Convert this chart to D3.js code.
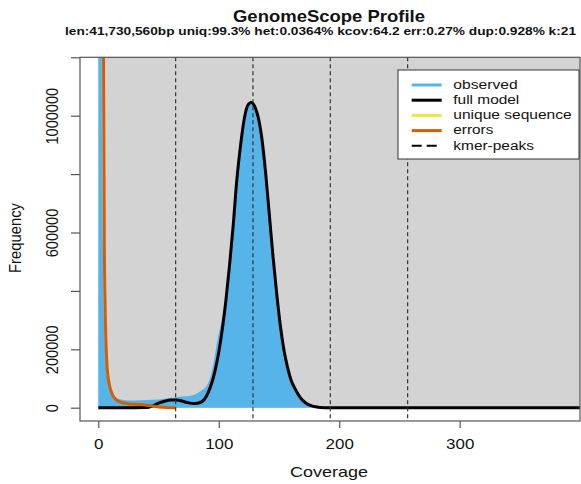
<!DOCTYPE html>
<html>
<head>
<meta charset="utf-8">
<script src="https://cdn.jsdelivr.net/npm/d3@7"></script>
<style>
  body { margin: 0; background: #fff; }
  svg { display: block; font-family: "Liberation Sans", Arial, sans-serif; }
</style>
</head>
<body>
<div id="chart"></div>
<script>
// values
var obsX = [1, 2, 3, 4, 5, 6, 7, 8, 10, 12, 15, 20, 25, 30, 40, 50, 60, 65, 70, 75, 80, 85, 90, 93, 96, 99, 102, 105, 108, 111, 114, 117, 120, 123, 126, 129, 132, 135, 138, 141, 144, 147, 150, 153, 156, 159, 162, 166, 170, 175, 180, 190, 200, 250, 400];
var obsY = [9000000, 3200000, 1000000, 480000, 270000, 175000, 125000, 95000, 68000, 48000, 33000, 27000, 25000, 25000, 26000, 28000, 33000, 36000, 38000, 40000, 45000, 57000, 75000, 105000, 160000, 235000, 290000, 355000, 450000, 580000, 730000, 860000, 960000, 1025000, 1050000, 1045000, 1005000, 935000, 835000, 705000, 565000, 430000, 315000, 220000, 155000, 105000, 72000, 42000, 23000, 10000, 4000, 1000, 500, 100, 0];

var modelX = [0, 30, 40, 45, 50, 55, 60, 65, 70, 75, 80, 84, 88, 91, 94, 97, 100, 103, 106, 109, 112, 115, 118, 121, 124, 127, 130, 133, 136, 139, 142, 145, 148, 151, 154, 157, 160, 164, 168, 172, 176, 180, 185, 190, 400];
var modelY = [0, 0, 500, 6000, 16000, 22000, 26000, 26500, 22000, 16500, 14500, 17000, 28000, 50000, 82000, 128000, 190000, 270000, 370000, 490000, 625000, 780000, 895000, 985000, 1035000, 1045000, 1030000, 990000, 915000, 800000, 660000, 520000, 395000, 285000, 200000, 140000, 95000, 60000, 33000, 17000, 8000, 3000, 800, 0, 0];

var errX = [2, 3, 4, 5, 6, 7, 8, 9, 10, 12, 15, 20, 25, 30, 40, 50, 57, 64];
var errY = [8000000, 3500000, 1500000, 560000, 280000, 160000, 110000, 82000, 65000, 42000, 27000, 17000, 13000, 11500, 8500, 2500, 700, 0];

var peaks = [64.2, 128.4, 192.6, 256.8];
var xTicks = [0, 100, 200, 300];
var yTicks = [0, 200000, 400000, 600000, 800000, 1000000, 1200000];
var yTickLabels = ["0", "200000", "", "600000", "", "1000000", ""];

var legendNames = ["observed", "full model", "unique sequence", "errors", "kmer-peaks"];
var legendColors = ["#56B4E9", "#000000", "#F0E442", "#D55E00", "#000000"];

var title = "GenomeScope Profile";
var subtitle = "len:41,730,560bp uniq:99.3%  het:0.0364% kcov:64.2 err:0.27%  dup:0.928%  k:21";

var svgWidth = 581, svgHeight = 484;
var box = {left: 80, right: 580, top: 57.3, bottom: 421};

var svg = d3.select("#chart").append("svg")
  .attr("width", svgWidth)
  .attr("height", svgHeight);

var xScale = d3.scaleLinear().domain([-15.2, 399.9]).range([box.left, box.right]);
var yScale = d3.scaleLinear().domain([0, 1200000]).range([407.7, box.top]);

svg.append("clipPath").attr("id", "clip")
  .append("rect")
  .attr("x", box.left).attr("y", box.top)
  .attr("width", box.right - box.left).attr("height", box.bottom - box.top);

var plot = svg.append("g").attr("clip-path", "url(#clip)");

// grey background from coverage 0 / frequency 0 up
plot.append("rect")
  .attr("x", xScale(0)).attr("y", box.top)
  .attr("width", box.right - xScale(0))
  .attr("height", yScale(0) - box.top)
  .attr("fill", "#D3D3D3");

var obs = obsX.map((x, i) => [x, obsY[i]]);
obs.unshift([0, 0]);
var area = d3.area()
  .x(d => xScale(d[0]))
  .y0(yScale(0))
  .y1(d => yScale(d[1]))
  .curve(d3.curveMonotoneX);

plot.append("path")
  .datum(obs)
  .attr("d", area)
  .attr("fill", "#56B4E9");

var line = d3.line()
  .x(d => xScale(d[0]))
  .y(d => yScale(d[1]))
  .curve(d3.curveMonotoneX);

plot.append("path")
  .datum(modelX.map((x, i) => [x, modelY[i]]))
  .attr("d", line)
  .attr("fill", "none")
  .attr("stroke", "#000")
  .attr("stroke-width", 3);

plot.append("path")
  .datum(errX.map((x, i) => [x, errY[i]]))
  .attr("d", line)
  .attr("fill", "none")
  .attr("stroke", "#D55E00")
  .attr("stroke-width", 3);

// kmer peaks
plot.selectAll("line.peak")
  .data(peaks)
  .enter()
  .append("line")
  .attr("class", "peak")
  .attr("x1", d => xScale(d)).attr("x2", d => xScale(d))
  .attr("y1", box.top).attr("y2", box.bottom)
  .attr("stroke", "#333")
  .attr("stroke-width", 1.2)
  .attr("stroke-dasharray", "4,3");

// box
svg.append("rect")
  .attr("x", box.left).attr("y", box.top)
  .attr("width", box.right - box.left).attr("height", box.bottom - box.top)
  .attr("fill", "none")
  .attr("stroke", "#555")
  .attr("stroke-width", 1.2);

// axes
var xAxis = d3.axisBottom(xScale).tickValues(xTicks).tickSize(7).tickFormat(d3.format("d"));
var gx = svg.append("g")
  .attr("transform", `translate(0, ${box.bottom})`)
  .call(xAxis);
gx.select(".domain").remove();
gx.selectAll("line").attr("stroke", "#555").attr("stroke-width", 1.2);
gx.selectAll("text")
  .attr("y", 28).attr("dy", 0)
  .attr("transform", "scale(1.13,1)")
  .attr("font-size", 15)
  .attr("fill", "#111");

var yAxis = d3.axisLeft(yScale).tickValues(yTicks).tickSize(9)
  .tickFormat((d, i) => yTickLabels[i]);
var gy = svg.append("g")
  .attr("transform", `translate(${box.left}, 0)`)
  .call(yAxis);
gy.select(".domain").remove();
gy.selectAll("line").attr("stroke", "#555").attr("stroke-width", 1.2);
gy.selectAll("text")
  .attr("x", 0).attr("dy", 0)
  .attr("text-anchor", "middle")
  .attr("transform", "translate(-22,0) scale(1.15,1) rotate(-90)")
  .attr("font-size", 14.6)
  .attr("fill", "#111");

// axis titles
svg.append("text")
  .attr("x", 329).attr("y", 477)
  .attr("text-anchor", "middle")
  .attr("font-size", 15)
  .attr("textLength", 78)
  .attr("lengthAdjust", "spacingAndGlyphs")
  .attr("fill", "#111")
  .text("Coverage");

svg.append("text")
  .attr("transform", "translate(21,238) scale(1.15,1) rotate(-90)")
  .attr("text-anchor", "middle")
  .attr("font-size", 14.8)
  .attr("fill", "#111")
  .text("Frequency");

// titles
svg.append("text")
  .attr("x", 329).attr("y", 21.7)
  .attr("text-anchor", "middle")
  .attr("font-size", 16.3)
  .attr("font-weight", "bold")
  .attr("textLength", 192)
  .attr("lengthAdjust", "spacingAndGlyphs")
  .attr("fill", "#111")
  .text(title);

svg.append("text")
  .attr("x", 65).attr("y", 34.5)
  .attr("font-size", 10.8)
  .attr("font-weight", "bold")
  .attr("textLength", 511)
  .attr("lengthAdjust", "spacingAndGlyphs")
  .attr("fill", "#111")
  .text(subtitle);

// legend
var legend = svg.append("g");
legend.append("rect")
  .attr("x", 398).attr("y", 70)
  .attr("width", 181).attr("height", 89)
  .attr("fill", "#fff")
  .attr("stroke", "#333")
  .attr("stroke-width", 1);

var textLens = [64.3, 66, 118.3, 40, 80.7];
var rows = legend.selectAll("g.row")
  .data(legendNames)
  .enter()
  .append("g")
  .attr("transform", (d, i) => `translate(0, ${85 + i * 15.2})`);

rows.append("line")
  .attr("x1", 411.7).attr("x2", 441.7)
  .attr("stroke", (d, i) => legendColors[i])
  .attr("stroke-width", (d, i) => i == 4 ? 2 : 3)
  .attr("stroke-dasharray", (d, i) => i == 4 ? "10,5" : null);

rows.append("text")
  .attr("x", 453.3).attr("y", 3.8)
  .attr("font-size", 12)
  .attr("textLength", (d, i) => textLens[i])
  .attr("lengthAdjust", "spacingAndGlyphs")
  .attr("fill", "#111")
  .text(d => d);
</script>
</body>
</html>
